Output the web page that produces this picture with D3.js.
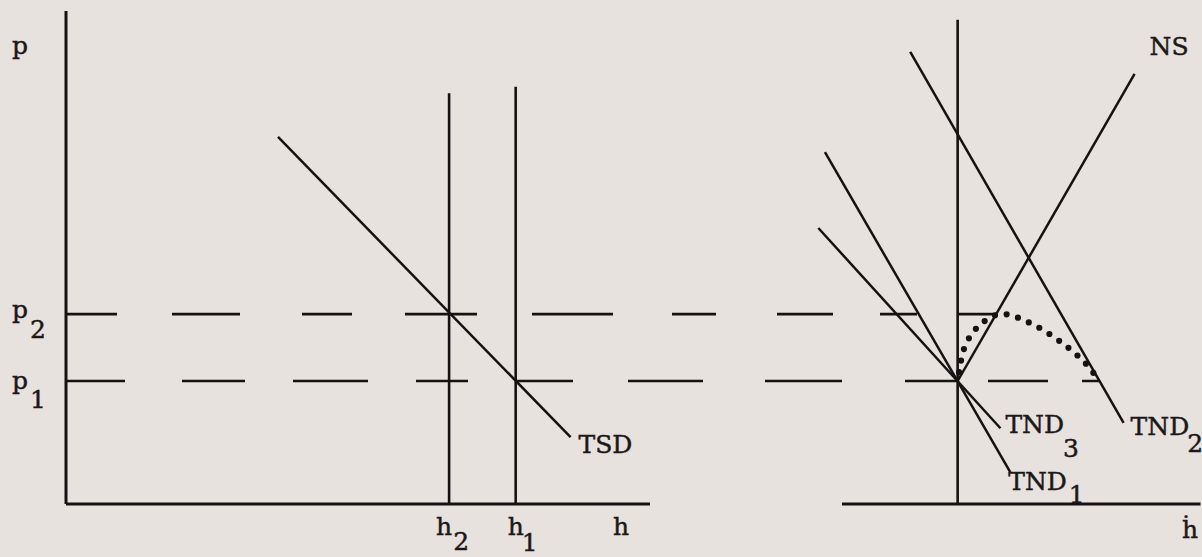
<!DOCTYPE html>
<html>
<head>
<meta charset="utf-8">
<script src="https://cdn.jsdelivr.net/npm/d3@7"></script>
<style>
  html, body { margin: 0; padding: 0; background: #e7e2dd; }
  svg { display: block; }
  text { font-family: "DejaVu Serif", serif; font-size: 25px; fill: #1c1818; stroke: #1c1818; stroke-width: 0.45px; }
</style>
</head>
<body>
<div id="chart"></div>
<script>
// Price levels on the shared vertical axis
const priceNames = ["p", "p"];
const priceSubs = ["1", "2"];
const priceValues = [25.0, 38.6];

// Housing stock levels in the left panel (vertical supply lines)
const stockSubs = ["2", "1"];
const stockValues = [65.6, 77.0];
const stockTops = [83.5, 84.8];

// Total stock demand, left panel: end points [h, p]
const tsdLine = [[36.3, 74.6], [86.4, 13.6]];

// Right panel (flow of new construction ḣ): new supply and demand schedules
const nsLine = [[0, 25.0], [30.6, 87.4]];
const tnd1Line = [[-22.95, 71.5], [9.1, 6.5]];
const tnd2Line = [[-8.2, 91.9], [28.7, 16.5]];
const tnd3Line = [[-24.1, 56.1], [7.4, 15.4]];

// Adjustment path of construction as price moves from p1 to p2
const pathPoints = [[0.24, 26.8], [1.28, 32.1], [3.5, 36.0], [7.3, 38.6],
                    [12.5, 36.8], [18.1, 32.7], [22.2, 28.5], [24.1, 25.6]];

const W = 1202, H = 557;
const ink = "#161212";

const svg = d3.select("#chart").append("svg")
  .attr("width", W).attr("height", H);

// Shared price scale, one quantity scale per panel
const y = d3.scaleLinear().domain([0, 100]).range([504, 12]);
const xL = d3.scaleLinear().domain([0, 100]).range([66, 650]);
const xR = d3.scaleLinear().domain([-20, 42]).range([842, 1200.5]);

// quantity on a straight schedule at a given price
function hAt(line, p) {
  const [[h0, p0], [h1, p1]] = line;
  return h0 + (p - p0) * (h1 - h0) / (p1 - p0);
}

function seg(x1, y1, x2, y2, w) {
  return svg.append("line")
    .attr("x1", x1).attr("y1", y1).attr("x2", x2).attr("y2", y2)
    .attr("stroke", ink).attr("stroke-width", w || 2.5);
}

// Dashed price lines running across both panels
const dashPatterns = [
  "59,57,63,48,75,48,52,49,56,55,75,62,77,63,52,31,60,34,40",
  "51,55,68,62,50,53,72,55,81,59,44,61,56,47,37,40,80"
];
const priceEnds = [xR(hAt(tnd2Line, priceValues[0])), xR(hAt(nsLine, priceValues[1]))];
priceValues.forEach((p, i) => {
  seg(xL(0), y(p), priceEnds[i], y(p), 2.6)
    .attr("stroke-dasharray", dashPatterns[i]);
});

// Left panel axes
seg(xL(0), y(0), xL(0), y(100.2), 3);
seg(xL(0), y(0), xL(100), y(0), 3.2);

// Fixed stock lines h2, h1
stockValues.forEach((h, i) => {
  seg(xL(h), y(0), xL(h), y(stockTops[i]), 2.6);
});

// Total stock demand
seg(xL(tsdLine[0][0]), y(tsdLine[0][1]), xL(tsdLine[1][0]), y(tsdLine[1][1]), 2.5);

// Right panel axes
seg(xR(0), y(0), xR(0), y(98.4), 2.6);
seg(xR(-20), y(0), xR(42), y(0), 3.2);

// Schedules in the right panel
[nsLine, tnd1Line, tnd2Line, tnd3Line].forEach(l => {
  seg(xR(l[0][0]), y(l[0][1]), xR(l[1][0]), y(l[1][1]), 2.5);
});

// Dotted adjustment path
svg.append("path")
  .datum(pathPoints)
  .attr("d", d3.line().x(d => xR(d[0])).y(d => y(d[1])).curve(d3.curveCatmullRom))
  .attr("fill", "none")
  .attr("stroke", ink)
  .attr("stroke-width", 6.2)
  .attr("stroke-linecap", "round")
  .attr("stroke-dasharray", "0 11.8");

// Labels with typewriter-style lowered subscripts
function label(x, yb, main, sub, subDx, subDy) {
  const t = svg.append("text").attr("x", x).attr("y", yb);
  t.append("tspan").text(main);
  if (sub) t.append("tspan").attr("dx", subDx).attr("dy", subDy).text(sub);
  return t;
}

// vertical axis labels
label(12, 54, "p");
priceValues.forEach((p, i) => {
  const off = i === 0 ? 8 : 4;
  label(12, y(p) + off, priceNames[i], priceSubs[i], 2, i === 0 ? 19 : 20);
});

// horizontal axis labels, left panel
stockValues.forEach((h, i) => {
  label(xL(h) - (i === 0 ? 13 : 8), 535, "h", stockSubs[i], i === 0 ? 1 : -2, i === 0 ? 15 : 16);
});
label(613, 535, "h");
label(1182, 538, "ḣ");

// curve labels
label(xL(tsdLine[1][0]) + 8, y(tsdLine[1][1]) + 16, "TSD");
label(xR(nsLine[1][0]) + 15, y(nsLine[1][1]) - 19, "NS");
label(xR(tnd3Line[1][0]) + 5, y(tnd3Line[1][1]) + 5, "TND", "3", -1, 24);
label(xR(tnd1Line[1][0]) - 2, y(tnd1Line[1][1]) + 18, "TND", "1", 2, 13);
label(xR(tnd2Line[1][0]) + 7, y(tnd2Line[1][1]) + 12, "TND", "2", -2, 17);
</script>
</body>
</html>
